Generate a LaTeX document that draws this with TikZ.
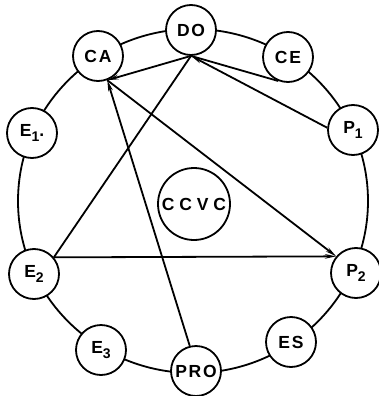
\documentclass[tikz,border=0pt]{standalone}
\usepackage{fontspec}
\setmainfont{Liberation Sans}
\newfontfamily\lblfont[LetterSpace=10]{Liberation Sans}
\newfontfamily\widefont[LetterSpace=28]{Liberation Sans}
\usetikzlibrary{arrows.meta}
\newcommand\lowsub[1]{\raisebox{-5pt}{\fontsize{14}{14}\selectfont #1}}
\begin{document}
\begin{tikzpicture}[x=1pt,y=-1pt,
  st/.style={circle,draw,fill=white,line width=1.8pt,minimum size=50pt,inner sep=0pt,
             font=\lblfont\fontsize{17.5}{17.5}\selectfont\bfseries},
  ln/.style={line width=1.8pt},
  arr/.style={ln,-{Stealth[length=11pt,width=4.5pt]}}]
\useasboundingbox (0,0) rectangle (378,396);
\draw[ln] (193,201) ellipse [x radius=175pt, y radius=172pt];
\node[st] (DO)  at (191,30)  {DO};
\node[st] (CA)  at (98,56)   {CA};
\node[st] (CE)  at (288,57)  {CE};
\node[st] (E1)  at (32,133)  {E\lowsub{1}.};
\node[st] (P1)  at (353,130) {P\lowsub{1}};
\node[st] (E2)  at (34,274)  {E\lowsub{2}};
\node[st] (P2)  at (356,273) {P\lowsub{2}};
\node[st] (E3)  at (101,350) {E\lowsub{3}};
\node[st] (PRO) at (196,371) {PRO};
\node[st] (ES)  at (291,342) {ES};
\node[st,minimum size=72pt,font=\widefont\fontsize{17.5}{17.5}\selectfont\bfseries] (CCVC) at (194,204) {CCVC};
\draw[arr] (DO.south) -- (CA.-69);
\draw[arr] (PRO.104) -- (CA.-69);
\draw[arr] (CA.-69) -- (P2.140);
\draw[arr] (E2.40) -- (P2.140);
\draw[ln] (E2.40) -- (DO.south);
\draw[arr] (P1.175) -- (DO.south);
\draw[ln] (DO.south) -- (CE.248);
\end{tikzpicture}
\end{document}
